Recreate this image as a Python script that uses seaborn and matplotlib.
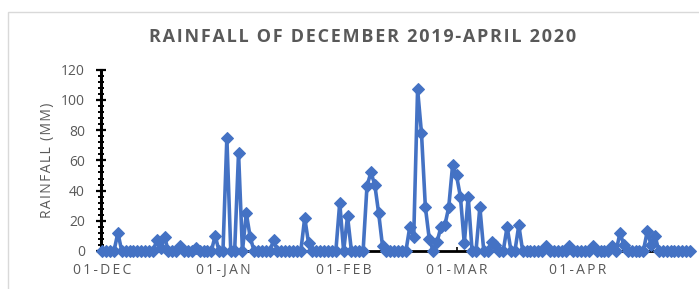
import pandas as pd
import matplotlib
matplotlib.use("Agg")
import matplotlib.pyplot as plt
import matplotlib.patches as patches
from matplotlib.ticker import MultipleLocator
import seaborn as sns

# daily rainfall (mm), 01-Dec-2019 .. 30-Apr-2020
start_date = "2019-12-01"
end_date = "2020-04-30"
rain_dec = [0, 0, 0, 0, 12, 0, 0, 0, 0, 0, 0, 0, 0, 0, 7, 2, 9, 0, 0, 0,
            3, 0, 0, 0, 2, 0, 0, 0, 0, 10, 0]
rain_jan = [0, 75, 0, 0, 65, 0, 25, 9, 0, 0, 0, 0, 0, 7, 0, 0, 0, 0, 0, 0,
            0, 22, 5, 0, 0, 0, 0, 0, 0, 0, 32]
rain_feb = [0, 23, 0, 0, 0, 0, 43, 52, 44, 25, 3, 0, 0, 0, 0, 0, 0, 16, 9, 107,
            78, 29, 8, 0, 6, 16, 17, 29, 57]
rain_mar = [50, 36, 5, 36, 0, 0, 29, 0, 0, 6, 4, 0, 0, 16, 0, 0, 17, 0, 0, 0,
            0, 0, 0, 3, 0, 0, 0, 0, 0, 3, 0]
rain_apr = [0, 0, 0, 0, 3, 0, 0, 0, 0, 3, 0, 12, 4, 0, 0, 0, 0, 0, 13, 4,
            10, 0, 0, 0, 0, 0, 0, 0, 0, 0]

tick_dates = ["2019-12-01", "2020-01-01", "2020-02-01", "2020-03-01", "2020-04-01"]
tick_labels = ["01-DEC", "01-JAN", "01-FEB", "01-MAR", "01-APR"]
y_ticks = [0, 20, 40, 60, 80, 100, 120]
title = "RAINFALL OF DECEMBER 2019-APRIL 2020"
y_label = "RAINFALL (MM)"

df = pd.DataFrame({
    "date": pd.date_range(start_date, end_date, freq="D"),
    "rain": rain_dec + rain_jan + rain_feb + rain_mar + rain_apr,
})


def spaced(s, gap):
    # fake letter spacing, like the excel chart
    return gap.join(s)


sns.set_style("white")
plt.rcParams["font.family"] = ["Open Sans", "DejaVu Sans"]
grey = "#595959"
THIN = "\u2009"
HAIR = "\u200a"

fig = plt.figure(figsize=(6.99, 2.89), dpi=100)
ax = fig.add_axes([0.1445, 0.1315, 0.8455, 0.627])

sns.lineplot(data=df, x="date", y="rain", ax=ax, color="#4472C4",
             linewidth=2.6, marker="D", markersize=5.8,
             markeredgecolor="#4472C4", zorder=3, clip_on=False)

ax.set_ylim(0, 120)
ax.set_xlim(pd.Timestamp(start_date) - pd.Timedelta(hours=8),
            pd.Timestamp(end_date) + pd.Timedelta(hours=12))
ax.set_yticks(y_ticks)
ax.yaxis.set_minor_locator(MultipleLocator(4))
ax.set_xticks(pd.to_datetime(tick_dates))
ax.set_xticklabels([spaced(t, THIN) for t in tick_labels])

for s in ["top", "right"]:
    ax.spines[s].set_visible(False)
ax.spines["left"].set_color("black")
ax.spines["left"].set_linewidth(2.2)
ax.spines["bottom"].set_color("black")
ax.spines["bottom"].set_linewidth(2.0)

ax.tick_params(axis="y", which="major", direction="inout", length=7, width=1.6,
               color="black", labelsize=10, labelcolor=grey, pad=8, left=True)
ax.tick_params(axis="y", which="minor", direction="inout", length=5, width=1.4,
               color="black", left=True)
ax.tick_params(axis="x", which="major", direction="in", length=3, width=1.2,
               color="black", labelsize=10, labelcolor=grey, pad=9, bottom=True)

ax.set_xlabel("")
ax.set_ylabel(spaced(y_label, HAIR), fontsize=10, color=grey, labelpad=4)

fig.text(0.518, 0.872, spaced(title, HAIR), ha="center",
         va="center", fontsize=13, fontweight="bold", color=grey)

# chart area border
fig.patches.append(patches.Rectangle((8 / 699, -0.05), 1.0, 1.05 - 12 / 289,
                                     transform=fig.transFigure, fill=False,
                                     edgecolor="#d9d9d9", linewidth=1.0))

fig.savefig("out.png", dpi=100)
